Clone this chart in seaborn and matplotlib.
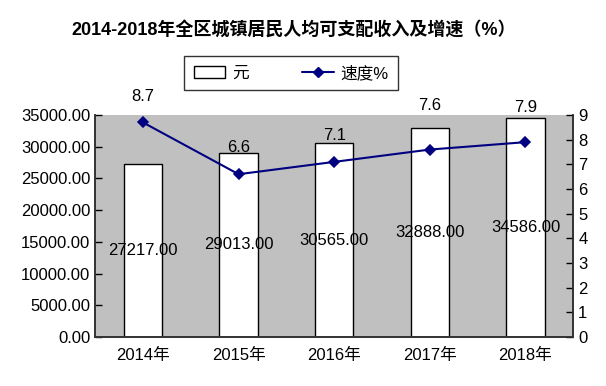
import numpy as np
import pandas as pd
import matplotlib
matplotlib.use("Agg")
import matplotlib.pyplot as plt
import seaborn as sns
from matplotlib.patches import Patch
from matplotlib.lines import Line2D

# data
years = ["2014年", "2015年", "2016年", "2017年", "2018年"]
income = [27217.00, 29013.00, 30565.00, 32888.00, 34586.00]
growth = [8.7, 6.6, 7.1, 7.6, 7.9]

df = pd.DataFrame({"year": years, "income": income, "growth": growth})

sns.set_theme(style="white")
plt.rcParams["font.family"] = ["Liberation Sans Narrow", "Liberation Sans", "Noto Sans CJK SC", "DejaVu Sans"]
plt.rcParams["text.color"] = "black"
plt.rcParams["xtick.color"] = "black"
plt.rcParams["ytick.color"] = "black"

fig = plt.figure(figsize=(6.06, 3.86), dpi=100)
ax = fig.add_axes([0.157, 0.127, 0.789, 0.575])
ax.set_facecolor("#c0c0c0")

sns.barplot(data=df, x="year", y="income", color="white", edgecolor="black",
            linewidth=1, width=0.4, saturation=1, ax=ax)
ax.bar_label(ax.containers[0], fmt="%.2f", label_type="center", fontsize=12, color="black")

ax.set_ylim(0, 35000)
ax.set_yticks(np.arange(0, 35001, 5000))
ax.set_yticklabels([f"{v:.2f}" for v in np.arange(0, 35001, 5000)])
ax.set_xlim(-0.5, len(years) - 0.5)
ax.set_xlabel("")
ax.set_ylabel("")
ax.set_xticks(np.arange(0.5, len(years) - 1, 1), minor=True)
ax.tick_params(axis="x", which="major", length=0, labelsize=12, pad=8)
ax.tick_params(axis="x", which="minor", direction="in", length=6, width=1, color="black")
ax.tick_params(axis="y", direction="in", length=5, width=1, color="black", labelsize=12, left=True)

ax2 = ax.twinx()
sns.pointplot(data=df, x="year", y="growth", color="#000080", markers="D",
              markersize=5, linewidth=1.5, ax=ax2)
ax2.set_ylim(0, 9)
ax2.set_yticks(range(0, 10))
ax2.set_ylabel("")
ax2.tick_params(axis="y", direction="in", length=5, width=1, color="black", labelsize=12, right=True)

# label offsets (points) as placed in the original
label_offsets = [19, 19, 19, 32, 25]
for i, g in enumerate(growth):
    ax2.annotate(f"{g}", (i, g), xytext=(0, label_offsets[i]), textcoords="offset points",
                 ha="center", va="center", fontsize=12, annotation_clip=False)

for a in (ax, ax2):
    for side in ("left", "bottom", "right"):
        a.spines[side].set_color("#333333")
        a.spines[side].set_linewidth(1.2)
    a.spines["top"].set_visible(False)

handles = [Patch(facecolor="white", edgecolor="black", label="元"),
           Line2D([], [], color="#000080", marker="D", markersize=5, lw=1.5, label="速度%")]
fig.legend(handles=handles, loc="center", bbox_to_anchor=(291 / 606, 1 - 73 / 386),
           ncol=2, frameon=True, fancybox=False, edgecolor="black", fontsize=12,
           handlelength=1.9, handletextpad=0.4, columnspacing=3.2, borderpad=0.55)

fig.text(294 / 606, 1 - 30 / 386, "2014-2018年全区城镇居民人均可支配收入及增速（%）",
         ha="center", va="center", fontsize=13, fontweight="bold")

fig.savefig("out.png", dpi=100)
